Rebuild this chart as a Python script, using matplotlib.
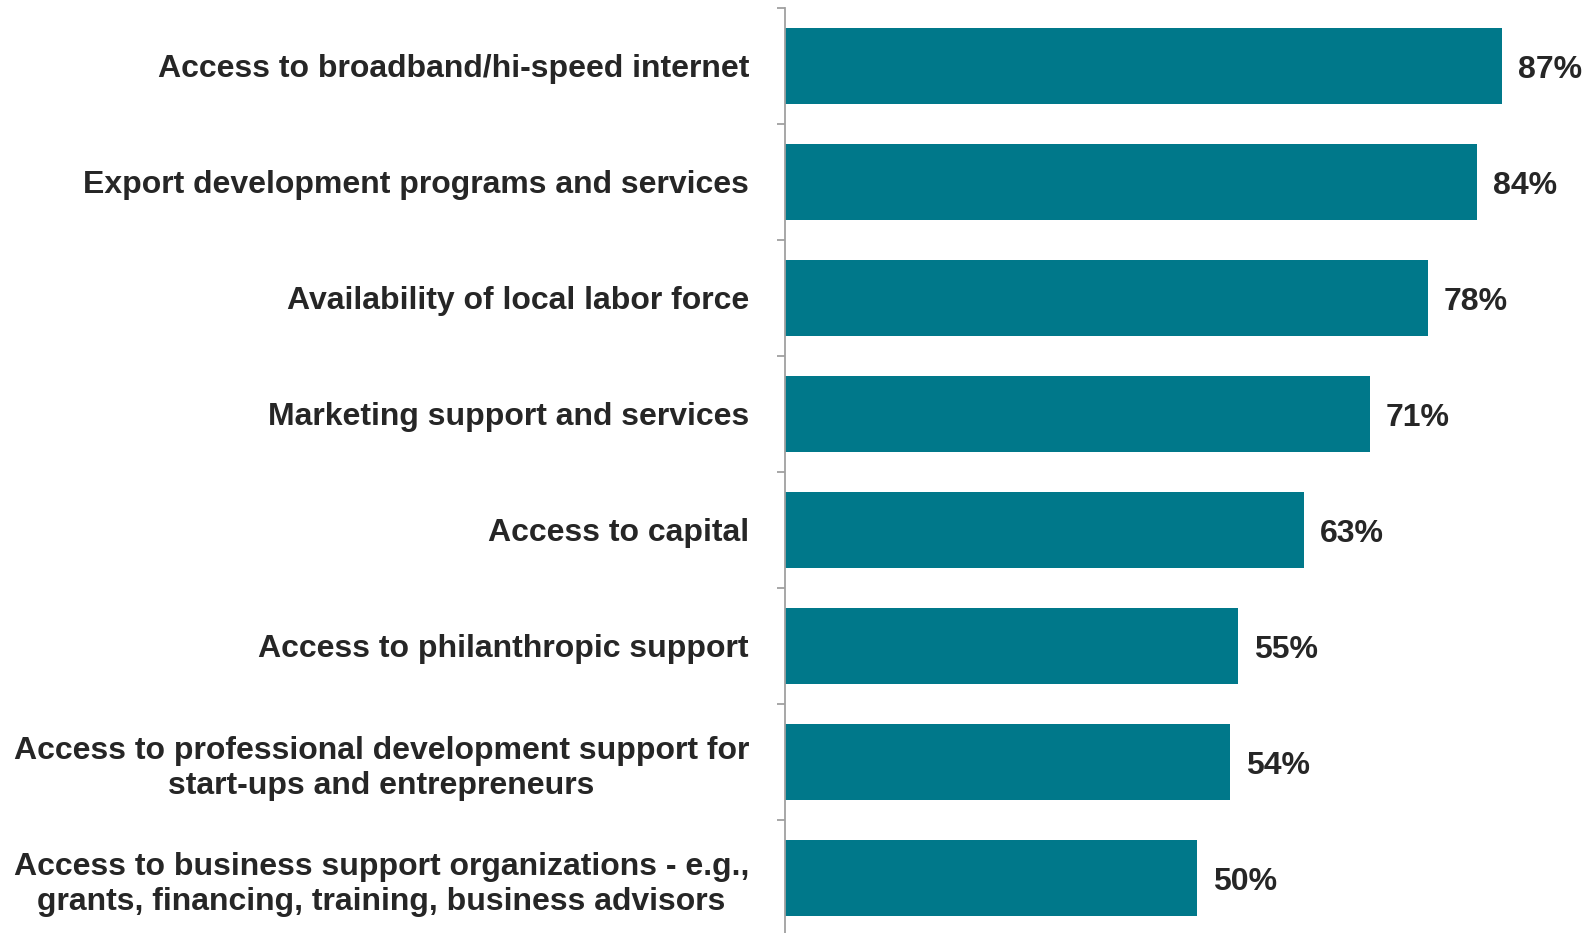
import matplotlib
matplotlib.use("Agg")
import matplotlib.pyplot as plt
import numpy as np

categories = [
    "Access to broadband/hi-speed internet",
    "Export development programs and services",
    "Availability of local labor force",
    "Marketing support and services",
    "Access to capital",
    "Access to philanthropic support",
    "Access to professional development support for\nstart-ups and entrepreneurs",
    "Access to business support organizations - e.g.,\ngrants, financing, training, business advisors",
]
values = [87, 84, 78, 71, 63, 55, 54, 50]
value_labels = ["87%", "84%", "78%", "71%", "63%", "55%", "54%", "50%"]

bar_color = "#00788A"
text_color = "#262626"
plt.rcParams['font.family'] = ['Liberation Sans', 'DejaVu Sans']

fig = plt.figure(figsize=(15.96, 9.33), dpi=100)
ax = fig.add_axes([785/1596, -3/933, 1 - 785/1596, (936 - 8)/933])

y = np.arange(len(categories))
ax.barh(y, values, height=0.655, color=bar_color, zorder=2)
ax.set_xlim(0, 98.4)
ax.set_ylim(len(categories) - 0.5, -0.5)

for yi, v, lab in zip(y, values, value_labels):
    ax.text(v + 1.9, yi, lab, va='center_baseline', ha='left', fontsize=23,
            fontweight='bold', color=text_color)

ax.set_yticks(y)
ax.set_yticklabels(categories, fontsize=23, fontweight='bold', color=text_color,
                   multialignment='center', linespacing=1.22)
ax.tick_params(axis='y', which='major', length=0, pad=26)
ax.set_yticks(np.arange(-0.5, len(categories), 1.0), minor=True)
ax.tick_params(axis='y', which='minor', length=6, width=1.3, color='#A0A0A0')
ax.set_xticks([])

for s in ['top', 'right', 'bottom']:
    ax.spines[s].set_visible(False)
ax.spines['left'].set_color('#A0A0A0')
ax.spines['left'].set_linewidth(1.3)

fig.savefig("out.png", dpi=100)
